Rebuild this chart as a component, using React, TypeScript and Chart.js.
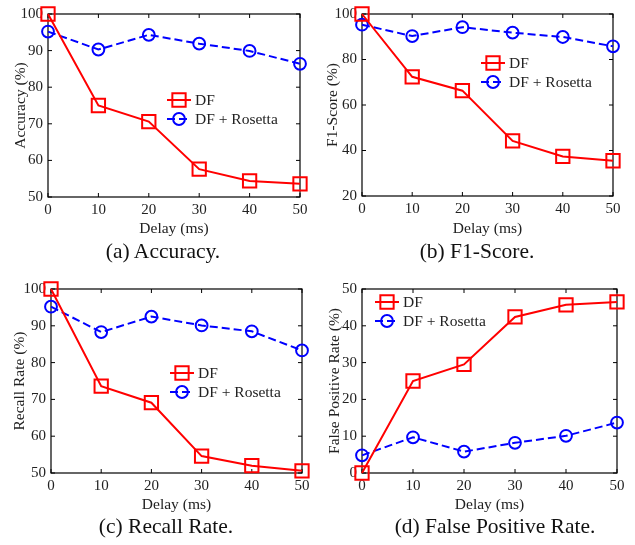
import React, { useEffect, useRef } from 'react';
import { Chart, registerables } from 'chart.js';

Chart.register(...registerables);

// ---------------- data ----------------
const delays = [0, 10, 20, 30, 40, 50];
const xTickValues = [0, 10, 20, 30, 40, 50];
const seriesNames = ['DF', 'DF + Rosetta'];

const accuracyDF = [100, 75.0, 70.6, 57.6, 54.4, 53.6];
const accuracyRosetta = [95.2, 90.3, 94.3, 91.9, 89.9, 86.4];
const accuracyTicks = [50, 60, 70, 80, 90, 100];

const f1DF = [100, 72.4, 66.3, 44.2, 37.4, 35.5];
const f1Rosetta = [95.3, 90.3, 94.2, 91.8, 89.9, 85.8];
const f1Ticks = [20, 40, 60, 80, 100];

const recallDF = [100, 73.6, 69.1, 54.6, 52.0, 50.6];
const recallRosetta = [95.2, 88.3, 92.5, 90.1, 88.5, 83.3];
const recallTicks = [50, 60, 70, 80, 90, 100];

const fprDF = [0, 25.0, 29.5, 42.4, 45.7, 46.5];
const fprRosetta = [4.8, 9.7, 5.8, 8.2, 10.1, 13.7];
const fprTicks = [0, 10, 20, 30, 40, 50];

// ---------------- styling / layout ----------------
const FONT = '"Liberation Serif", "Times New Roman", serif';
const TEXT = '#222';
const RED = '#ff0000';
const BLUE = '#0000ff';
const TICK_SIZE = 15;
const LABEL_SIZE = 15.5;
const CAPTION_SIZE = 21.5;

type Panel = {
  caption: string;
  yTitle: string;
  df: number[];
  ros: number[];
  yTicks: number[];
  box: { left: number; top: number; width: number; height: number };
  area: { l: number; t: number; r: number; b: number };
  yTitleX: number;
  xTitleY: number;
  legend: { x: number; y: number };
  captionX: number;
  captionY: number;
};

const panels: Panel[] = [
  {
    caption: '(a) Accuracy.', yTitle: 'Accuracy (%)', df: accuracyDF, ros: accuracyRosetta, yTicks: accuracyTicks,
    box: { left: 0, top: 0, width: 318, height: 240 }, area: { l: 48, t: 12, r: 300, b: 197 },
    yTitleX: 21, xTitleY: 229, legend: { x: 119, y: 86 }, captionX: 163, captionY: 252,
  },
  {
    caption: '(b) F1-Score.', yTitle: 'F1-Score (%)', df: f1DF, ros: f1Rosetta, yTicks: f1Ticks,
    box: { left: 318, top: 0, width: 317, height: 240 }, area: { l: 362, t: 12, r: 613, b: 196 },
    yTitleX: 333, xTitleY: 229, legend: { x: 119, y: 49 }, captionX: 477, captionY: 252,
  },
  {
    caption: '(c) Recall Rate.', yTitle: 'Recall Rate (%)', df: recallDF, ros: recallRosetta, yTicks: recallTicks,
    box: { left: 0, top: 270, width: 318, height: 245 }, area: { l: 51, t: 289, r: 302, b: 473 },
    yTitleX: 20, xTitleY: 505, legend: { x: 119, y: 84 }, captionX: 166, captionY: 527,
  },
  {
    caption: '(d) False Positive Rate.', yTitle: 'False Positive Rate (%)', df: fprDF, ros: fprRosetta, yTicks: fprTicks,
    box: { left: 318, top: 270, width: 317, height: 245 }, area: { l: 362, t: 289, r: 617, b: 473 },
    yTitleX: 335, xTitleY: 505, legend: { x: 13, y: 13 }, captionX: 495, captionY: 527,
  },
];

const SQUARE_R = 9.4; // rect side = 1.414 * r
const CIRCLE_R = 5.9;
const DASH = [8, 4];

function PanelChart({ p }: { p: Panel }) {
  const ref = useRef<HTMLCanvasElement | null>(null);
  useEffect(() => {
    if (!ref.current) return;
    const rel = { l: p.area.l - p.box.left, t: p.area.t - p.box.top, r: p.area.r - p.box.left, b: p.area.b - p.box.top };
    const lhLabel = LABEL_SIZE * 1.2;
    const xTitlePad = Math.max(0, p.box.height - (p.xTitleY - p.box.top) - lhLabel / 2);
    const yTitlePad = Math.max(0, p.yTitleX - p.box.left - lhLabel / 2);

    const framePlugin = {
      id: 'frame',
      beforeDatasetsDraw(chart: any) {
        const { ctx, chartArea: a, scales } = chart;
        ctx.save();
        ctx.strokeStyle = '#000';
        ctx.lineWidth = 1.2;
        ctx.strokeRect(a.left, a.top, a.right - a.left, a.bottom - a.top);
        const tl = 4;
        ctx.beginPath();
        scales.x.ticks.forEach((t: any) => {
          const x = scales.x.getPixelForValue(t.value);
          ctx.moveTo(x, a.bottom); ctx.lineTo(x, a.bottom - tl);
          ctx.moveTo(x, a.top); ctx.lineTo(x, a.top + tl);
        });
        scales.y.ticks.forEach((t: any) => {
          const y = scales.y.getPixelForValue(t.value);
          ctx.moveTo(a.left, y); ctx.lineTo(a.left + tl, y);
          ctx.moveTo(a.right, y); ctx.lineTo(a.right - tl, y);
        });
        ctx.lineWidth = 1;
        ctx.stroke();
        ctx.restore();
      },
      afterDraw(chart: any) {
        const { ctx, chartArea: a } = chart;
        ctx.save();
        chart.data.datasets.forEach((ds: any, i: number) => {
          const x0 = a.left + p.legend.x;
          const y = a.top + p.legend.y + i * 19;
          ctx.strokeStyle = ds.borderColor;
          ctx.lineWidth = 2;
          ctx.setLineDash(ds.borderDash || []);
          ctx.beginPath();
          ctx.moveTo(x0, y); ctx.lineTo(x0 + 24, y);
          ctx.stroke();
          ctx.setLineDash([]);
          ctx.beginPath();
          if (ds.pointStyle === 'rect') {
            const s = Math.SQRT1_2 * SQUARE_R;
            ctx.rect(x0 + 12 - s, y - s, 2 * s, 2 * s);
          } else {
            ctx.arc(x0 + 12, y, CIRCLE_R, 0, Math.PI * 2);
          }
          ctx.stroke();
          ctx.fillStyle = TEXT;
          ctx.font = `${LABEL_SIZE}px ${FONT}`;
          ctx.textBaseline = 'middle';
          ctx.textAlign = 'left';
          ctx.fillText(ds.label, x0 + 28, y + 1);
        });
        ctx.restore();
      },
    };

    const chart = new Chart(ref.current, {
      type: 'line',
      data: {
        datasets: [
          {
            label: seriesNames[0],
            data: delays.map((d, i) => ({ x: d, y: p.df[i] })),
            borderColor: RED,
            backgroundColor: 'transparent',
            borderWidth: 2,
            pointStyle: 'rect',
            pointRadius: SQUARE_R,
            pointBorderWidth: 2,
            pointBorderColor: RED,
            pointBackgroundColor: 'transparent',
            clip: false,
          } as any,
          {
            label: seriesNames[1],
            data: delays.map((d, i) => ({ x: d, y: p.ros[i] })),
            borderColor: BLUE,
            backgroundColor: 'transparent',
            borderWidth: 2,
            borderDash: DASH,
            pointStyle: 'circle',
            pointRadius: CIRCLE_R,
            pointBorderWidth: 2,
            pointBorderColor: BLUE,
            pointBackgroundColor: 'transparent',
            clip: false,
          } as any,
        ],
      },
      options: {
        animation: false,
        responsive: false,
        maintainAspectRatio: false,
        devicePixelRatio: 1,
        layout: { padding: { left: 0, top: rel.t, right: p.box.width - rel.r, bottom: 0 } },
        plugins: { legend: { display: false }, tooltip: { enabled: false }, title: { display: false } },
        scales: {
          x: {
            type: 'linear',
            min: 0,
            max: 50,
            afterBuildTicks: (s: any) => { s.ticks = xTickValues.map((v) => ({ value: v })); },
            afterFit: (s: any) => { s.height = p.box.height - rel.b; },
            grid: { display: false, drawTicks: false },
            border: { display: false },
            ticks: { padding: 4, color: TEXT, font: { family: FONT, size: TICK_SIZE }, maxRotation: 0, autoSkip: false },
            title: { display: true, text: 'Delay (ms)', color: TEXT, font: { family: FONT, size: LABEL_SIZE }, padding: { top: 0, bottom: xTitlePad } },
          },
          y: {
            type: 'linear',
            min: p.yTicks[0],
            max: p.yTicks[p.yTicks.length - 1],
            afterBuildTicks: (s: any) => { s.ticks = p.yTicks.map((v) => ({ value: v })); },
            afterFit: (s: any) => { s.width = rel.l; },
            grid: { display: false, drawTicks: false },
            border: { display: false },
            ticks: { padding: 5, color: TEXT, font: { family: FONT, size: TICK_SIZE }, autoSkip: false },
            title: { display: true, text: p.yTitle, color: TEXT, font: { family: FONT, size: LABEL_SIZE }, padding: { top: yTitlePad, bottom: 0 } },
          },
        },
      } as any,
      plugins: [framePlugin],
    });
    return () => chart.destroy();
  }, [p]);

  return (
    <>
      <canvas
        ref={ref}
        width={p.box.width}
        height={p.box.height}
        style={{ position: 'absolute', left: p.box.left, top: p.box.top, width: p.box.width, height: p.box.height }}
      />
      <div
        style={{
          position: 'absolute',
          left: p.captionX,
          top: p.captionY,
          transform: 'translate(-50%, -50%)',
          fontFamily: FONT,
          fontSize: CAPTION_SIZE,
          lineHeight: 1,
          color: '#111',
          whiteSpace: 'nowrap',
        }}
      >
        {p.caption}
      </div>
    </>
  );
}

export default function App() {
  return (
    <div style={{ position: 'absolute', left: 0, top: 0, width: 635, height: 545, background: '#fff', overflow: 'hidden' }}>
      {panels.map((p) => (
        <PanelChart key={p.caption} p={p} />
      ))}
    </div>
  );
}
